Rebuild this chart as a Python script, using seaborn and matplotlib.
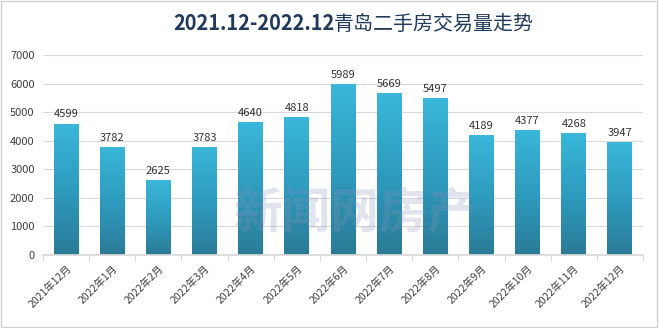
import numpy as np
import pandas as pd
import matplotlib
matplotlib.use("Agg")
import matplotlib.pyplot as plt
import seaborn as sns
from matplotlib.colors import LinearSegmentedColormap
from matplotlib.patches import Rectangle

months = ["2021年12月", "2022年1月", "2022年2月", "2022年3月", "2022年4月", "2022年5月",
          "2022年6月", "2022年7月", "2022年8月", "2022年9月", "2022年10月", "2022年11月", "2022年12月"]
volumes = [4599, 3782, 2625, 3783, 4640, 4818, 5989, 5669, 5497, 4189, 4377, 4268, 3947]
title_a = "2021.12-2022.12"
title_b = "青岛二手房交易量走势"
y_ticks = [0, 1000, 2000, 3000, 4000, 5000, 6000, 7000]

sns.set_theme(style="white")
plt.rcParams['font.family'] = ['Noto Sans CJK SC', 'DejaVu Sans']

df = pd.DataFrame({"month": months, "volume": volumes})

fig = plt.figure(figsize=(6.59, 3.28), dpi=100)
ax = fig.add_axes([43/659, 73/328, 600/659, 200/328])
sns.barplot(data=df, x="month", y="volume", ax=ax, color="#2f9fc4", width=0.54, saturation=1)

cmap = LinearSegmentedColormap.from_list("g", ["#2a7b96", "#2e9cbf", "#3ab7da"])
grad = np.linspace(0, 1, 256).reshape(-1, 1)
for p in ax.patches:
    x0, y0 = p.get_x(), p.get_y()
    w, h = p.get_width(), p.get_height()
    im = ax.imshow(grad, extent=[x0, x0 + w, 0, h], origin="lower", aspect="auto",
                   cmap=cmap, zorder=2)
    im.set_clip_path(p)
    p.set_alpha(0)
    ax.text(x0 + w / 2, h + 150, f"{int(h)}", ha="center", va="bottom",
            fontsize=8, color="#333333", zorder=4)

ax.set_xlim(-0.5, len(months) - 0.5)
ax.set_ylim(0, 7000)
ax.set_yticks(y_ticks)
ax.set_yticklabels([str(v) for v in y_ticks], fontsize=8, color="#404040")
ax.yaxis.grid(True, color="#d9d9d9", linewidth=0.8, zorder=0)
ax.set_axisbelow(True)
for s in ["top", "right", "left"]:
    ax.spines[s].set_visible(False)
ax.spines["bottom"].set_color("#d9d9d9")
ax.set_xlabel("")
ax.set_ylabel("")
ax.set_xticks(range(len(months)))
ax.set_xticklabels(months, rotation=45, ha="right", rotation_mode="anchor",
                   fontsize=7.5, color="#404040")
ax.set_xticks(np.arange(-0.5, len(months), 1), minor=True)
ax.tick_params(axis="x", which="major", length=0, pad=6)
ax.tick_params(axis="x", which="minor", length=4, color="#d9d9d9", width=0.8, bottom=True)
ax.tick_params(axis="y", length=0, pad=6)

# watermark
fig.text(355/659, 1 - 214/328, "新闻网房产", fontsize=35, fontweight="bold",
         color="#8890b8", alpha=0.25, ha="center", va="center", zorder=5)

# title in two parts: bold digits, regular Chinese
t1 = fig.text(173/659, 1 - 24/328, title_a, fontsize=14.4, fontweight="bold",
              color="#1f3a5a", ha="left", va="center")
fig.canvas.draw()
bb = t1.get_window_extent(renderer=fig.canvas.get_renderer())
fig.text(bb.x1 / fig.bbox.width, 1 - 24/328, title_b, fontsize=14.4,
         color="#1f3a5a", ha="left", va="center")

fig.patches.append(Rectangle((0.002, 0.003), 0.995, 0.993, transform=fig.transFigure,
                             fill=False, edgecolor="#d0d0d0", linewidth=1))

fig.savefig("out.png", dpi=100)
